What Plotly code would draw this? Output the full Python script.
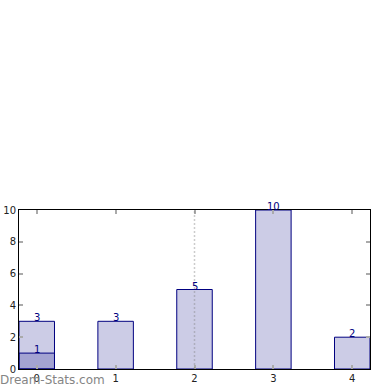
import plotly.graph_objects as go

categories = [0, 1, 2, 3, 4]
values = [3, 3, 5, 10, 2]
overlay_x = [0]
overlay_values = [1]
x_ticks = [0, 1, 2, 3, 4]
y_ticks = [0, 2, 4, 6, 8, 10]

fill = "rgba(0,0,128,0.2)"
edge = "#000080"

fig = go.Figure()
fig.add_trace(go.Bar(x=categories, y=values, width=0.45,
                     marker=dict(color=fill, line=dict(color=edge, width=1))))
fig.add_trace(go.Bar(x=overlay_x, y=overlay_values, width=0.45,
                     marker=dict(color=fill, line=dict(color=edge, width=1))))

for xs, ys in [(categories, values), (overlay_x, overlay_values)]:
    for xi, yi in zip(xs, ys):
        fig.add_annotation(x=xi, y=yi, text=str(yi), showarrow=False,
                           yanchor="bottom", yshift=-4,
                           font=dict(family="DejaVu Sans", size=10, color=edge))

fig.add_shape(type="line", xref="x", yref="paper", x0=2, x1=2, y0=0, y1=1,
              line=dict(color="rgba(128,128,128,0.4)", width=1.5, dash="2px,2px"))

fig.add_annotation(xref="paper", yref="paper", x=-0.06, y=-0.072,
                   xanchor="left", yanchor="middle", text="Dream-Stats.com",
                   showarrow=False,
                   font=dict(family="DejaVu Sans", size=12, color="#858585"))

axis_common = dict(showline=True, linecolor="black", linewidth=1, mirror="allticks",
                   ticks="inside", ticklen=4, tickcolor="#aaaaaa", tickwidth=1.5,
                   showgrid=False, zeroline=False, automargin=False,
                   tickfont=dict(family="DejaVu Sans", size=10, color="#222222"))

fig.update_layout(
    template="none",
    width=390, height=390,
    margin=dict(l=19, r=20, t=210, b=21),
    paper_bgcolor="white", plot_bgcolor="white",
    barmode="overlay", showlegend=False,
    xaxis=dict(range=[-0.225, 4.225], tickvals=x_ticks, **axis_common),
    yaxis=dict(range=[0, 10], tickvals=y_ticks, **axis_common),
)

fig.write_html("out.html", config={"displayModeBar": False},
               post_script="document.body.style.margin='0px';")
